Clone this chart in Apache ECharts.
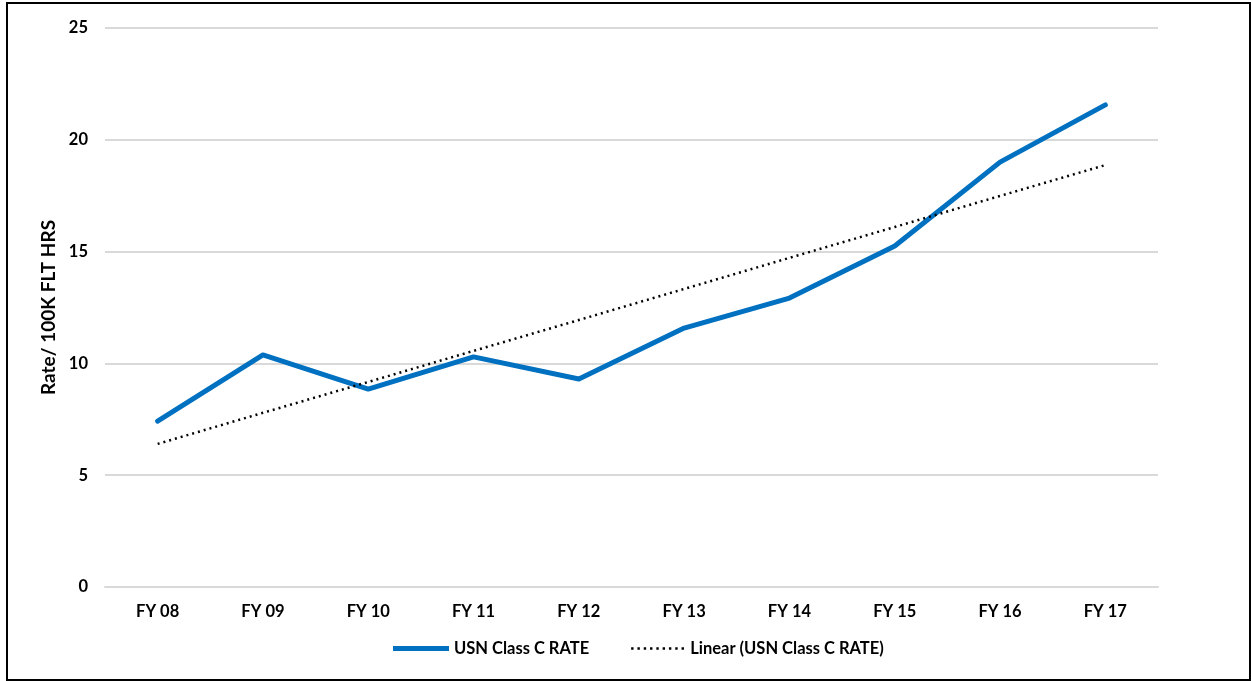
<!DOCTYPE html>
<html><head><meta charset="utf-8">
<script src="https://cdn.jsdelivr.net/npm/echarts@6/dist/echarts.min.js"></script>
<style>
html,body{margin:0;padding:0;background:#fff;}
#frame{position:absolute;left:6px;top:2px;width:1241px;height:675px;border:2px solid #000;box-sizing:content-box;}
#chart{position:absolute;left:0;top:0;width:1251px;height:681px;}
</style></head>
<body>
<div id="frame"></div>
<div id="chart"></div>
<script>
const categories = ['FY 08','FY 09','FY 10','FY 11','FY 12','FY 13','FY 14','FY 15','FY 16','FY 17'];
const rateValues = [7.42, 10.38, 8.85, 10.29, 9.30, 11.58, 12.92, 15.25, 19.00, 21.56];
const linearValues = [6.40, 7.79, 9.17, 10.56, 11.94, 13.33, 14.72, 16.10, 17.49, 18.87];
const seriesNames = ['USN Class C RATE', 'Linear (USN Class C RATE)'];

const font = 'Lato, "Open Sans", sans-serif';
let dots = 'M0,0 L0.01,0 L0.01,0.01 Z M55.99,5 L56,5 L56,4.99 Z ';
for (let i = 0; i < 9; i++) { const x = 2 + i * 6.3; dots += 'M' + x + ',1.3 L' + (x + 2.4) + ',1.3 L' + (x + 2.4) + ',3.7 L' + x + ',3.7 Z '; }
const chart = echarts.init(document.getElementById('chart'));
chart.setOption({
  animation: false,
  grid: {left: 105, right: 93, top: 28, bottom: 94, containLabel: false},
  legend: {
    bottom: 19, left: 388, itemGap: 40, itemWidth: 56, itemHeight: 5,
    textStyle: {fontFamily: font, fontWeight: 'bold', fontSize: 16.5, color: '#000'},
    data: [
      {name: seriesNames[0], icon: 'path://M0,0 L56,0 L56,5 L0,5 Z', itemStyle:{color:'#0070C0'}},
      {name: seriesNames[1], icon: 'path://' + dots, itemStyle:{color:'#000'}}
    ]
  },
  xAxis: {
    type: 'category', data: categories, boundaryGap: true,
    axisLine: {show: true, lineStyle: {color: '#d9d9d9', width: 2}},
    axisTick: {show: false},
    axisLabel: {fontFamily: font, fontWeight: 'bold', fontSize: 16.5, color: '#000', margin: 16}
  },
  yAxis: {
    type: 'value', min: 0, max: 25, interval: 5,
    name: 'Rate/ 100K FLT HRS', nameLocation: 'middle', nameGap: 39, nameRotate: 90,
    nameTextStyle: {fontFamily: font, fontWeight: 'bold', fontSize: 19, color: '#000'},
    axisLine: {show: false}, axisTick: {show: false},
    splitLine: {lineStyle: {color: '#d9d9d9', width: 2}},
    axisLabel: {fontFamily: font, fontWeight: 'bold', fontSize: 16.5, color: '#000', margin: 17}
  },
  series: [
    {name: seriesNames[0], type: 'line', data: rateValues, symbol: 'none',
     lineStyle: {color: '#0070C0', width: 5, cap: 'round', join: 'round'}, itemStyle:{color:'#0070C0'}},
    {name: seriesNames[1], type: 'line', data: linearValues, symbol: 'none',
     lineStyle: {color: '#000', width: 2.5, type: [2, 4]}, itemStyle:{color:'#000'}}
  ]
});
</script>
</body></html>
